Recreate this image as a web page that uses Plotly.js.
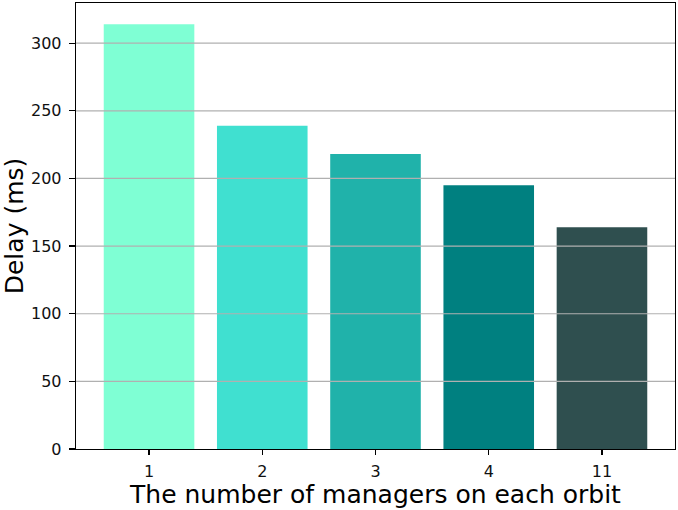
<!DOCTYPE html>
<html>
<head>
<meta charset="utf-8">
<script src="https://cdn.plot.ly/plotly-3.0.1.min.js"></script>
<style>html,body{margin:0;padding:0;background:#fff;}#chart{width:678px;height:510px;}</style>
</head>
<body>
<div id="chart"></div>
<script>
const categories = ["1", "2", "3", "4", "11"];
const delays = [314, 239, 218, 195, 164];
const barColors = ["#7FFFD4", "#40E0D0", "#20B2AA", "#008080", "#2F4F4F"];
const yTicks = [0, 50, 100, 150, 200, 250, 300];

const trace = {
  type: "bar",
  x: categories,
  y: delays,
  width: 0.8,
  marker: {color: barColors, line: {width: 0}},
  hoverinfo: "skip"
};

// horizontal grid lines drawn above the bars, as in the reference
const gridShapes = yTicks.filter(v => v > 0).map(v => ({
  type: "line", xref: "paper", yref: "y",
  x0: 0, x1: 1, y0: v, y1: v,
  line: {color: "#b0b0b0", width: 1.2},
  layer: "above"
}));

const font = "DejaVu Sans";
const layout = {
  width: 678, height: 510,
  margin: {l: 76, r: 3, t: 3, b: 61},
  paper_bgcolor: "#fff", plot_bgcolor: "#fff",
  showlegend: false,
  font: {family: font, size: 16, color: "#111"},
  shapes: gridShapes,
  xaxis: {
    type: "category",
    range: [-0.645, 4.645],
    showline: true, mirror: true, linecolor: "#000", linewidth: 1.3,
    ticks: "outside", ticklen: 5, tickwidth: 1.2, tickcolor: "#000",
    ticklabelstandoff: 2,
    showgrid: false, zeroline: false,
    tickfont: {family: font, size: 16, color: "#111"},
    title: {text: "The number of managers on each orbit", font: {family: font, size: 25, color: "#000"}, standoff: 3}
  },
  yaxis: {
    range: [0, 329.7],
    tickvals: yTicks,
    showline: true, mirror: true, linecolor: "#000", linewidth: 1.3,
    ticks: "outside", ticklen: 6, tickwidth: 1.2, tickcolor: "#000",
    ticklabelstandoff: 4,
    showgrid: false,
    zeroline: false,
    tickfont: {family: font, size: 16, color: "#111"},
    title: {text: "Delay (ms)", font: {family: font, size: 25, color: "#000"}, standoff: 7}
  }
};

Plotly.newPlot("chart", [trace], layout, {displayModeBar: false, staticPlot: true});
</script>
</body>
</html>
